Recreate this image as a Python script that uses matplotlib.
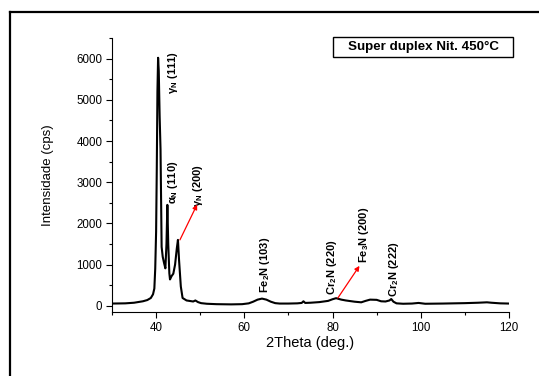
import matplotlib
matplotlib.use('Agg')
import matplotlib.pyplot as plt
from matplotlib.lines import Line2D
from matplotlib.patches import Rectangle
from matplotlib.ticker import MultipleLocator

plt.rcParams['font.family'] = ['Liberation Sans', 'DejaVu Sans']
plt.rcParams['mathtext.fontset'] = 'custom'
plt.rcParams['mathtext.rm'] = 'Liberation Sans:bold'

# XRD pattern
two_theta = [30, 33, 35, 37, 38, 38.8, 39.3, 39.6, 39.8, 40.0, 40.15, 40.3, 40.45,
             40.6, 40.8, 41.0, 41.25, 41.5, 41.8, 42.1, 42.35, 42.55, 42.75, 43.0,
             43.15, 43.5, 43.9, 44.3, 44.7, 44.95, 45.2, 45.6, 46.0, 46.9, 47.8,
             48.4, 48.9, 49.5, 50.2, 51.5, 53.7, 57, 59.5, 61, 62, 63, 64, 65, 66,
             67, 68, 70, 72, 73, 73.4, 73.8, 75, 77, 79, 80, 80.8, 82, 83, 85, 86.5,
             87.5, 88.5, 90, 91, 92, 92.9, 93.3, 93.8, 94.5, 96, 98, 99.5, 101, 105,
             110, 113, 115, 116, 118, 120]
intensity = [55, 60, 75, 110, 140, 190, 280, 420, 900, 1800, 3300, 5200, 6020,
             5700, 4600, 3800, 1430, 1190, 1040, 910, 1500, 2450, 1500, 790,
             640, 720, 780, 1000, 1400, 1600, 1110, 470, 190, 130, 115,
             105, 130, 90, 65, 50, 40, 35, 40, 60, 100, 150, 175, 150, 100,
             65, 55, 55, 60, 70, 110, 70, 75, 90, 120, 160, 185, 150, 130, 100, 85,
             120, 150, 145, 110, 105, 130, 165, 100, 60, 50, 55, 70, 50, 55,
             65, 75, 85, 75, 60, 55]

# peak labels: (x, y of text start, label)
peak_x = [43.9, 43.8, 49.5, 64.7, 79.9, 87.1, 94.0]
peak_y = [5150, 2480, 2400, 310, 260, 1040, 210]
peak_labels = ['γ$_\\mathregular{N}$ (111)', 'α$_\\mathregular{N}$ (110)',
               'γ$_\\mathregular{N}$ (200)', 'Fe$_\\mathregular{2}$N (103)',
               'Cr$_\\mathregular{2}$N (220)', 'Fe$_\\mathregular{3}$N (200)',
               'Cr$_\\mathregular{2}$N (222)']

# red arrows: start -> end
arrows = [((45.4, 1600), (49.3, 2460)), ((81.2, 190), (86.1, 970))]

fig = plt.figure(figsize=(5.39, 3.76), dpi=100)
ax = fig.add_axes([112 / 539, 1 - 312 / 376, 397 / 539, 274 / 376])

ax.plot(two_theta, intensity, color='black', lw=1.5)

ax.set_xlim(30, 120)
ax.set_ylim(-150, 6500)
ax.xaxis.set_major_locator(MultipleLocator(20))
ax.xaxis.set_minor_locator(MultipleLocator(10))
ax.yaxis.set_major_locator(MultipleLocator(1000))
ax.yaxis.set_minor_locator(MultipleLocator(500))
ax.tick_params(which='major', length=4, width=0.8, labelsize=8.3, pad=3)
ax.tick_params(which='minor', length=2.5, width=0.8)
ax.spines['top'].set_visible(False)
ax.spines['right'].set_visible(False)
ax.spines['left'].set_linewidth(0.8)
ax.spines['bottom'].set_linewidth(0.8)

ax.set_xlabel('2Theta (deg.)', fontsize=10.5, labelpad=2)
ax.set_ylabel('Intensidade (cps)', fontsize=9.5, labelpad=16)

for x, y, lab in zip(peak_x, peak_y, peak_labels):
    ax.text(x, y, lab, rotation=90, ha='center', va='bottom',
            fontsize=8, fontweight='bold')

for (x0, y0), (x1, y1) in arrows:
    ax.annotate('', xy=(x1, y1), xytext=(x0, y0),
                arrowprops=dict(arrowstyle='-|>', color='red', lw=0.9,
                                mutation_scale=7, shrinkA=0, shrinkB=0))

# title box
fig.patches.append(Rectangle((333 / 539, 1 - 57 / 376), 180 / 539, 20 / 376,
                             transform=fig.transFigure, fill=False,
                             edgecolor='black', lw=1))
fig.text(423 / 539, 1 - 47 / 376, 'Super duplex Nit. 450°C', ha='center',
         va='center', fontsize=9.6, fontweight='bold')

# outer frame (cut at right and bottom)
fig.add_artist(Line2D([10 / 539, 1.01], [1 - 12 / 376, 1 - 12 / 376],
                      transform=fig.transFigure, color='black', lw=1.6))
fig.add_artist(Line2D([10 / 539, 10 / 539], [1 - 12 / 376, -0.01],
                      transform=fig.transFigure, color='black', lw=1.6))

fig.savefig('out.png', dpi=100)
